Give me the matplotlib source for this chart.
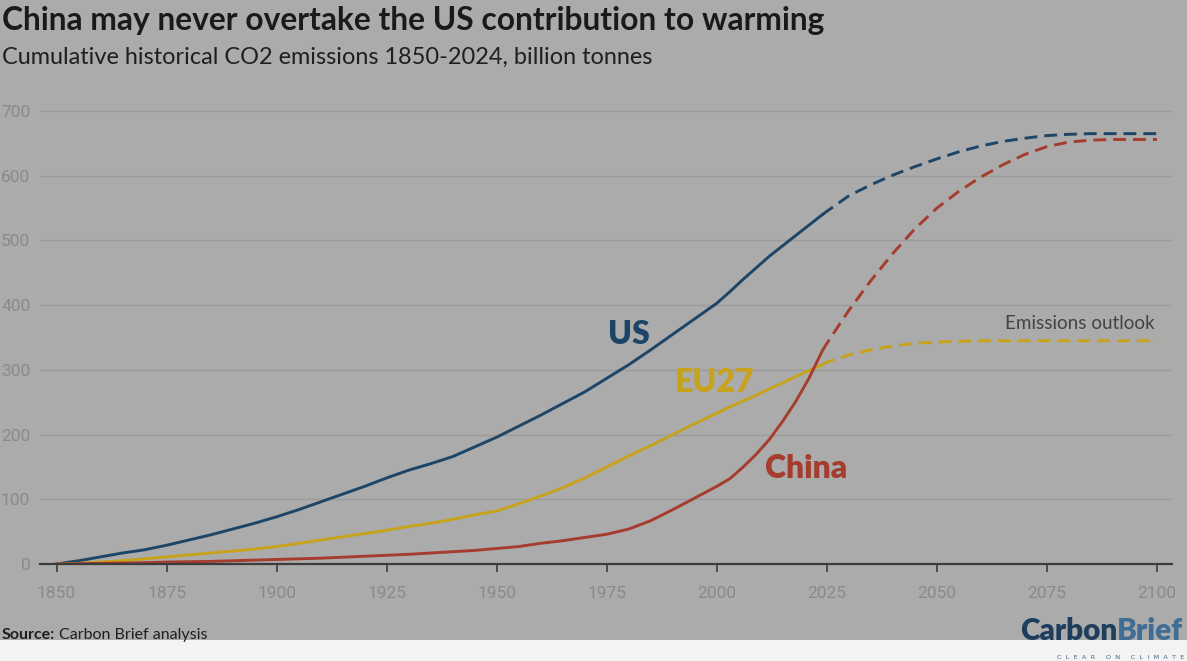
import numpy as np
import matplotlib.pyplot as plt
from matplotlib.patches import Rectangle
from matplotlib.transforms import Bbox

# Cumulative CO2 emissions, billion tonnes
hist_years = [1850, 1855, 1860, 1865, 1870, 1875, 1880, 1885, 1890, 1895,
              1900, 1905, 1910, 1915, 1920, 1925, 1930, 1935, 1940, 1945,
              1950, 1955, 1960, 1965, 1970, 1975, 1980, 1985, 1990, 1995,
              2000, 2003, 2006, 2009, 2012, 2015, 2018, 2021, 2024]
us_hist = [0, 5, 11, 17, 22, 29, 37, 45, 54, 63,
           73, 84, 96, 108, 120, 133, 145, 155, 166, 181,
           196, 213, 230, 248, 266, 287, 308, 331, 355, 379,
           403, 421, 440, 458, 476, 492, 508, 524, 540]
eu_hist = [0, 1, 3, 5, 8, 11, 14, 17, 20, 23,
           27, 32, 37, 42, 47, 52, 58, 63, 69, 76,
           82, 93, 105, 118, 133, 150, 167, 183, 200, 217,
           233, 243, 252, 261, 271, 280, 290, 299, 308]
china_hist = [0, 0.5, 1, 1.5, 2, 3, 3.5, 4, 5, 6,
              7, 8, 9, 10.5, 12, 13.5, 15, 17, 19, 21,
              24, 27, 32, 36, 41, 46, 54, 67, 84, 102,
              120, 132, 150, 170, 193, 221, 252, 288, 330]

# Emissions outlook
proj_years = [2024, 2025, 2030, 2035, 2040, 2045, 2050, 2055, 2060, 2065,
              2070, 2075, 2080, 2085, 2090, 2095, 2100]
us_proj = [540, 545, 569, 586, 601, 614, 626, 637, 646, 653,
           658, 662, 664, 665, 665, 665, 665]
eu_proj = [308, 312, 323, 331, 337, 341, 343, 344, 345, 345,
           345, 345, 345, 345, 345, 345, 345]
china_proj = [330, 341, 392, 438, 480, 518, 550, 576, 598, 617,
              633, 645, 652, 655, 656, 656, 656]

x_ticks = [1850, 1875, 1900, 1925, 1950, 1975, 2000, 2025, 2050, 2075, 2100]
y_ticks = [0, 100, 200, 300, 400, 500, 600, 700]

US_COL = '#1c4567'
EU_COL = '#c7a21b'
CN_COL = '#a53c2d'
BG = '#ababab'
W, H = 1187, 661

fig = plt.figure(figsize=(W / 100, H / 100), dpi=100, facecolor=BG)
ax = fig.add_axes([40 / W, (H - 564) / H, 1132 / W, 459 / H])
ax.set_facecolor(BG)
renderer = fig.canvas.get_renderer()


def fit_width(t, target):
    # scale a text so it spans `target` pixels
    w = t.get_window_extent(renderer).width
    t.set_fontsize(t.get_fontsize() * target / w)


for hist, proj, col in [(us_hist, us_proj, US_COL),
                        (eu_hist, eu_proj, EU_COL),
                        (china_hist, china_proj, CN_COL)]:
    ax.plot(hist_years, hist, color=col, lw=2.1, solid_joinstyle='round', zorder=3)
    ax.plot(proj_years, proj, color=col, lw=2.1, dashes=(4.4, 2.4), zorder=3)

ax.set_xlim(1850 - 16.6 / 4.404, 2100 + 15 / 4.404)
ax.set_ylim(0, 700 * 459 / 453)
ax.set_xticks(x_ticks)
ax.set_yticks(y_ticks)
ax.set_xticklabels([str(t) for t in x_ticks], fontfamily='Roboto', fontsize=12.5, color='#8a8a8a')
ax.set_yticklabels([str(t) for t in y_ticks], fontfamily='Roboto', fontsize=12.5, color='#8a8a8a')
ax.tick_params(axis='x', length=6, width=1.2, color='#3c3c3c', pad=10)
ax.tick_params(axis='y', length=0, pad=7)
ax.grid(axis='y', color='#9b9b9b', lw=1)
ax.set_axisbelow(True)
for s in ['top', 'right', 'left']:
    ax.spines[s].set_visible(False)
ax.spines['bottom'].set_color('#3c3c3c')
ax.spines['bottom'].set_linewidth(1.6)
ax.spines['bottom'].set_zorder(4)

# series labels
lab = dict(fontfamily='Lato', fontweight='heavy', fontsize=23, ha='center', va='center')
ax.text(1980, 354, 'US', color=US_COL, **lab)
ax.text(1999.5, 280, 'EU27', color=EU_COL, **lab)
ax.text(2020.2, 147, 'China', color=CN_COL, **lab)
t = ax.text(2099.4, 371, 'Emissions outlook', color='#444444', fontsize=14,
            fontfamily='Lato', ha='right', va='center')
fit_width(t, 150)

# title block
t = fig.text(2 / W, 1 - 30 / H, 'China may never overtake the US contribution to warming',
             fontfamily='Lato', fontweight='bold', fontsize=22, color='#1a1a1a', va='baseline')
fit_width(t, 824)
t = fig.text(2 / W, 1 - 64 / H, 'Cumulative historical CO2 emissions 1850-2024, billion tonnes',
             fontfamily='Lato', fontsize=15, color='#1f1f1f', va='baseline')
fit_width(t, 650)
src = fig.text(2 / W, 1 - 639 / H, 'Source:', fontfamily='Lato', fontweight='bold',
               fontsize=11.5, color='#1f1f1f', va='baseline')
x1 = src.get_window_extent(renderer).x1
fig.text((x1 + 4) / W, 1 - 639 / H, 'Carbon Brief analysis', fontfamily='Lato',
         fontsize=11.5, color='#1f1f1f', va='baseline')

# bottom strip and logo
fig.patches.append(Rectangle((0, 0), 1, 21 / H, transform=fig.transFigure,
                             facecolor='#f3f3f3', edgecolor='none', zorder=0))
upper = Bbox.from_extents(0, 21, W, H)
lower = Bbox.from_extents(0, 0, W, 21)
logo = dict(fontfamily='Lato', fontweight='heavy', fontsize=24, va='baseline')
for clip, c1, c2 in [(upper, '#1d3f5d', '#3f6d94'), (lower, '#2b5e8c', '#5e9fd6')]:
    t1 = fig.text(1020 / W, 1 - 640 / H, 'Carbon', color=c1, **logo)
    t2 = fig.text(0, 1 - 640 / H, 'Brief', color=c2, **logo)
    full = fig.text(1020 / W, 1 - 640 / H, 'CarbonBrief', alpha=0, **logo)
    fit_width(full, 164)
    t1.set_fontsize(full.get_fontsize())
    t2.set_fontsize(full.get_fontsize())
    t2.set_x(t1.get_window_extent(renderer).x1 / W)
    for tt in (t1, t2):
        tt.set_clip_box(clip)
        tt.set_clip_on(True)
t = fig.text(1057 / W, 1 - 659 / H, 'C  L  E  A  R     O  N     C  L  I  M  A  T  E',
             fontfamily='DejaVu Sans', fontsize=5, color='#3d6690', va='baseline')
fit_width(t, 126)

fig.savefig('out.png', dpi=100, facecolor=BG)
